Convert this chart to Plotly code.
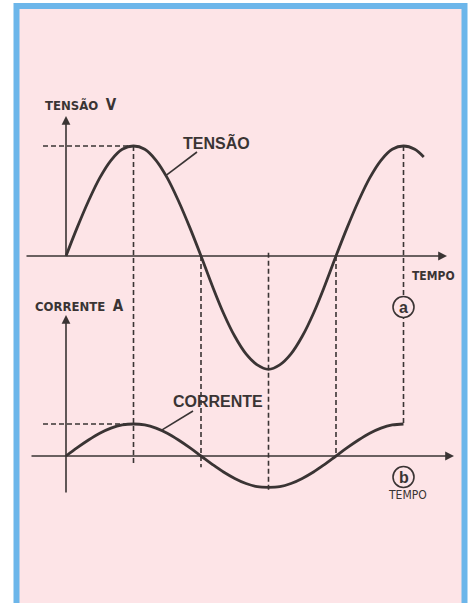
import plotly.graph_objects as go

# graus elétricos (eixo do tempo)
tempo_v = [0, 15, 30, 45, 60, 75, 90, 105, 120, 135, 150, 165, 180, 195, 210, 225,
           240, 255, 270, 285, 300, 315, 330, 345, 360, 375, 390, 405, 420, 435, 450,
           465, 477]
tensao = [0, 0.26, 0.5, 0.71, 0.87, 0.97, 1.0, 0.97, 0.87, 0.71, 0.5, 0.26, 0,
          -0.27, -0.52, -0.73, -0.89, -0.99, -1.03, -0.99, -0.89, -0.73, -0.52, -0.27,
          0, 0.26, 0.5, 0.71, 0.87, 0.97, 1.0, 0.97, 0.9]

tempo_i = [0, 15, 30, 45, 60, 75, 90, 105, 120, 135, 150, 165, 180, 195, 210, 225,
           240, 255, 270, 285, 300, 315, 330, 345, 360, 375, 390, 405, 420, 435, 450]
corrente = [0, 0.26, 0.5, 0.71, 0.87, 0.97, 1.0, 0.97, 0.87, 0.71, 0.5, 0.26, 0,
            -0.26, -0.5, -0.7, -0.86, -0.96, -0.98, -0.96, -0.86, -0.7, -0.5, -0.26,
            0, 0.26, 0.5, 0.71, 0.87, 0.97, 1.0]

# marcas verticais tracejadas (graus)
marcas = [90, 180, 270, 360, 450]

W, H = 475, 603
X0, KX = 66, 0.75          # pixel of t=0, px per degree
Y0V, KV = 256, 110         # top graph zero line / px per unit
Y0I, KI = 456, 32          # bottom graph zero line / px per unit

INK = "#3a3434"
PINK = "#fde4e7"
BLUE = "#6cb6ea"
NARROW = "Liberation Sans Narrow, DejaVu Sans Condensed, Arial Narrow, sans-serif"
BOLD = "Liberation Sans, Arial, sans-serif"


def px_x(p):
    return (p - X0) / KX


def px_v(p):
    return (Y0V - p) / KV


def px_i(p):
    return (Y0I - p) / KI


def i_to_v(i):
    # express a value of the current axis in units of the voltage axis
    return px_v(Y0I - i * KI)


fig = go.Figure()
fig.add_trace(go.Scatter(x=tempo_v, y=tensao, mode="lines", line_shape="spline",
                         line=dict(color=INK, width=2.8), hoverinfo="none"))
fig.add_trace(go.Scatter(x=tempo_i, y=corrente, mode="lines", line_shape="spline",
                         yaxis="y2", line=dict(color=INK, width=2.8), hoverinfo="none"))

shapes = []
# frame
shapes.append(dict(type="rect", xref="paper", yref="paper", layer="below",
                   x0=16.5 / W, x1=464.5 / W, y0=1 - 610 / H, y1=1 - 6 / H,
                   fillcolor=PINK, line=dict(color=BLUE, width=6)))

dash = dict(color=INK, width=1.6, dash="5px,3px")
# dashed horizontal at peaks
shapes.append(dict(type="line", xref="x", yref="y", x0=px_x(43), x1=90,
                   y0=max(tensao), y1=max(tensao), line=dash))
shapes.append(dict(type="line", xref="x", yref="y2", x0=px_x(43), x1=90,
                   y0=max(corrente), y1=max(corrente), line=dash))
# dashed verticals
tops = {90: 1.0, 180: 0.0, 270: 0.03, 360: 0.0, 450: 1.0}
bottoms = {90: -0.3, 180: -0.35, 270: -1.08, 360: 0.0, 450: 1.0}
for m in marcas:
    shapes.append(dict(type="line", xref="x", yref="y", x0=m, x1=m,
                       y0=tops[m], y1=i_to_v(bottoms[m]), line=dash))

# leader lines to the curve labels
lead = dict(color=INK, width=1.6)
shapes.append(dict(type="line", xref="x", yref="y", x0=px_x(197), y0=px_v(152),
                   x1=133, y1=0.73, line=lead))
shapes.append(dict(type="line", xref="x", yref="y2", x0=px_x(193), y0=px_i(411),
                   x1=127, y1=0.8, line=lead))

# circled letters
for yref, yc in (("y", px_v(307)), ("y2", px_i(477))):
    shapes.append(dict(type="circle", xref="x", yref=yref, xsizemode="pixel",
                       ysizemode="pixel", xanchor=450, yanchor=yc,
                       x0=-10.5, x1=10.5, y0=-10.5, y1=10.5,
                       fillcolor=PINK, line=dict(color=INK, width=1.6)))

ann = []


def arrow(x, y, ax, ay, yref):
    ann.append(dict(x=x, y=y, ax=ax, ay=ay, xref="x", yref=yref, axref="x",
                    ayref=yref, showarrow=True, text="", arrowhead=2,
                    arrowsize=1.1, arrowwidth=1.6, arrowcolor=INK))


# axes
arrow(px_x(447), 0, px_x(25), 0, "y")
arrow(0, px_v(116), 0, 0, "y")
arrow(px_x(454), 0, px_x(30), 0, "y2")
arrow(0, px_i(315), 0, px_i(494), "y2")


def label(text, x, y, yref, size, family=BOLD, xanchor="left", color=INK):
    ann.append(dict(text=text, x=x, y=y, xref="x", yref=yref, showarrow=False,
                    xanchor=xanchor, yanchor="middle",
                    font=dict(family=family, size=size, color=color)))


label("<b>TENSÃO</b>  <b><span style='font-size:15px'>V</span></b>",
      px_x(43), px_v(105), "y", 13, NARROW)
label("<b>TENSÃO</b>", px_x(181), px_v(142), "y", 16)
label("<b>TEMPO</b>", px_x(410), px_v(276), "y", 12, NARROW)
label("<b>a</b>", 450, px_v(307), "y", 16, xanchor="center")
label("<b>CORRENTE</b>  <b><span style='font-size:15px'>A</span></b>",
      px_x(33), px_i(306), "y2", 13, NARROW)
label("<b>CORRENTE</b>", px_x(171), px_i(401), "y2", 16)
label("<b>b</b>", 450, px_i(477), "y2", 16, xanchor="center")
label("TEMPO", px_x(407), px_i(495), "y2", 12, NARROW, xanchor="center")

fig.update_layout(
    width=W, height=H, margin=dict(l=0, r=0, t=0, b=0),
    paper_bgcolor="white", plot_bgcolor="rgba(0,0,0,0)", showlegend=False,
    xaxis=dict(range=[px_x(0), px_x(W)], visible=False, fixedrange=True),
    yaxis=dict(range=[px_v(H), px_v(0)], visible=False, fixedrange=True),
    yaxis2=dict(range=[px_i(H), px_i(0)], visible=False, overlaying="y",
                fixedrange=True),
    shapes=shapes, annotations=ann,
)

# page body has a default 8px margin; drop it so the figure sits at 0,0
fig.write_html("out.html", config={"displayModeBar": False},
               post_script="document.body.style.margin='0';")
